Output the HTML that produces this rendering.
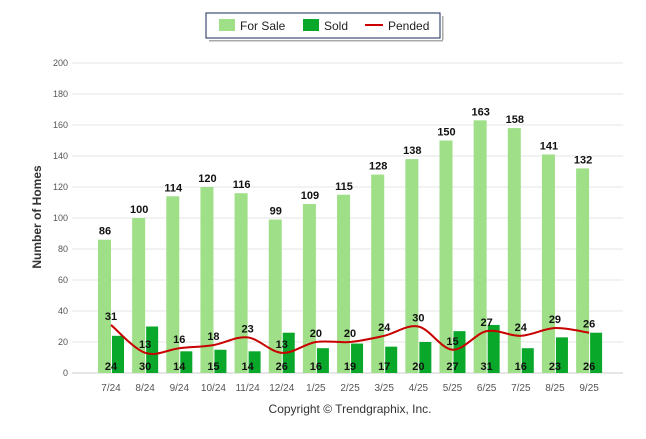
<!DOCTYPE html>
<html><head><meta charset="utf-8"><style>
body{margin:0;background:#fff;font-family:"Liberation Sans",Arial,sans-serif}
svg text{font-family:"Liberation Sans",Arial,sans-serif}
</style></head><body>
<svg id="c" width="646" height="434">
<g>
<rect x="206" y="13" width="234" height="25" fill="#fff" stroke="#1a2a5a" stroke-width="1"/>
<rect x="209" y="40" width="234" height="1.5" fill="#aaa"/>
<rect x="442" y="16" width="1.5" height="24" fill="#aaa"/>
<rect x="219" y="19" width="16" height="12" fill="#9edf88"/>
<text x="240" y="30" font-size="12" fill="#222">For Sale</text>
<rect x="303" y="19" width="16" height="12" fill="#0aa82a"/>
<text x="324" y="30" font-size="12" fill="#222">Sold</text>
<line x1="365" y1="25" x2="383" y2="25" stroke="#c00" stroke-width="2"/>
<text x="388" y="30" font-size="12" fill="#222">Pended</text>
</g>
<text x="41" y="217" font-size="12" font-weight="bold" fill="#333" text-anchor="middle" transform="rotate(-90 41 217)">Number of Homes</text>
<text x="350" y="413" font-size="12" fill="#333" text-anchor="middle">Copyright © Trendgraphix, Inc.</text>
<g id="grid"></g><g id="bars"></g><g id="line"></g><g id="labels"></g>
</svg>
<script>
const categories=["7/24","8/24","9/24","10/24","11/24","12/24","1/25","2/25","3/25","4/25","5/25","6/25","7/25","8/25","9/25"];
const forSale=[86,100,114,120,116,99,109,115,128,138,150,163,158,141,132];
const sold=[24,30,14,15,14,26,16,19,17,20,27,31,16,23,26];
const pended=[31,13,16,18,23,13,20,20,24,30,15,27,24,29,26];
const yTicks=[0,20,40,60,80,100,120,140,160,180,200];
const NS="http://www.w3.org/2000/svg";
const x=i=>111+34.15*i;
const y=v=>373-v*1.55;
function mk(t,a,p){const e=document.createElementNS(NS,t);for(const k in a)e.setAttribute(k,a[k]);document.getElementById(p).appendChild(e);return e;}
yTicks.forEach(v=>{
 const g=mk('line',{x1:72,x2:623,y1:y(v),y2:y(v),stroke:v?'#e6e6e6':'#ccc','stroke-width':1},'grid');
 
 
 const t=mk('text',{x:68,y:y(v)+3,'font-size':9,fill:'#555','text-anchor':'end'},'grid');t.textContent=v;
 
 
});
categories.forEach((c,i)=>{
 const t=mk('text',{x:x(i),y:391,'font-size':10,fill:'#555','text-anchor':'middle'},'grid');t.textContent=c;
 
 
 const b=mk('rect',{x:x(i)-13,y:y(forSale[i]),width:13,height:373-y(forSale[i]),fill:'#9edf88'},'bars');
 
 
 const s=mk('rect',{x:x(i)+1,y:y(sold[i]),width:12,height:373-y(sold[i]),fill:'#0aa82a'},'bars');
 
 
 const l1=mk('text',{x:x(i)-6,y:y(forSale[i])-5,'font-size':11,'font-weight':'bold',fill:'#111','text-anchor':'middle'},'labels');l1.textContent=forSale[i];
 
 
 const l2=mk('text',{x:x(i),y:370,'font-size':11,'font-weight':'bold',fill:'#111','text-anchor':'middle'},'labels');l2.textContent=sold[i];
 
 
 const l3=mk('text',{x:x(i),y:y(pended[i])-5,'font-size':11,'font-weight':'bold',fill:'#111','text-anchor':'middle'},'labels');l3.textContent=pended[i];
 
 
});
const pts=pended.map((v,i)=>[x(i),y(v)]);
let d='M'+pts[0][0]+','+pts[0][1];
for(let i=0;i<pts.length-1;i++){
 const p0=pts[i-1]||pts[i],p1=pts[i],p2=pts[i+1],p3=pts[i+2]||p2;
 const c1=[p1[0]+(p2[0]-p0[0])/6,p1[1]+(p2[1]-p0[1])/6],c2=[p2[0]-(p3[0]-p1[0])/6,p2[1]-(p3[1]-p1[1])/6];
 d+=` C${c1[0]},${c1[1]} ${c2[0]},${c2[1]} ${p2[0]},${p2[1]}`;
}
const pl=mk('path',{d:d,fill:'none',stroke:'#c80000','stroke-width':2},'line');


</script>
</body></html>
